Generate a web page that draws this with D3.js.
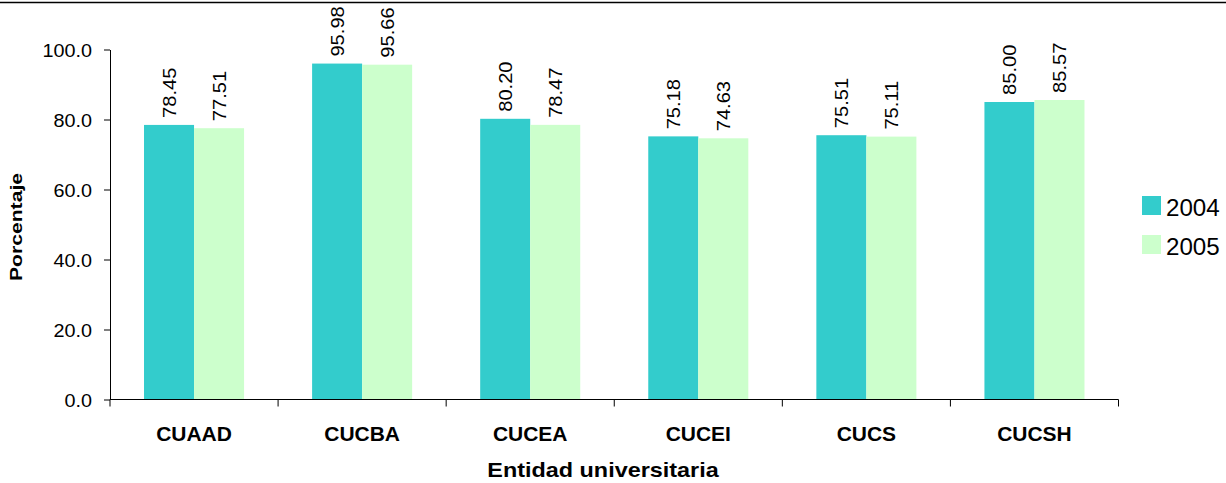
<!DOCTYPE html>
<html>
<head>
<meta charset="utf-8">
<script src="https://cdn.jsdelivr.net/npm/d3@7"></script>
<style>
  html, body { margin: 0; padding: 0; background: #fff; }
  svg { display: block; font-family: "Liberation Sans", Arial, sans-serif; }
</style>
</head>
<body>
<svg id="chart" width="1226" height="483"></svg>
<script>
const categories = ["CUAAD", "CUCBA", "CUCEA", "CUCEI", "CUCS", "CUCSH"];
const seriesNames = ["2004", "2005"];
const values2004 = [78.45, 95.98, 80.20, 75.18, 75.51, 85.00];
const values2005 = [77.51, 95.66, 78.47, 74.63, 75.11, 85.57];
const yTicks = [0, 20, 40, 60, 80, 100];
const colors = ["#33CCCC", "#CCFFCC"];
const xTitle = "Entidad universitaria";
const yTitle = "Porcentaje";

const seriesValues = [values2004, values2005];
const data = categories.map((c, i) => ({
  cat: c,
  vals: seriesNames.map((s, j) => ({ key: s, value: seriesValues[j][i], color: colors[j] }))
}));

const svg = d3.select("#chart");

// top rule
svg.append("line").attr("x1", 0).attr("x2", 1226).attr("y1", 2.5).attr("y2", 2.5)
  .attr("stroke", "#000").attr("stroke-width", 1.5);

const x0 = d3.scaleBand().domain(categories).range([110, 1118.5]).padding(0);
const x1 = d3.scaleBand().domain(seriesNames).range([0, x0.bandwidth()]).paddingInner(0).paddingOuter(0.68);
const y = d3.scaleLinear().domain([0, 100]).range([399.5, 49.5]);

// bars
const groups = svg.append("g").selectAll("g").data(data).join("g")
  .attr("transform", d => `translate(${x0(d.cat)},0)`);

groups.selectAll("rect").data(d => d.vals).join("rect")
  .attr("x", d => x1(d.key))
  .attr("y", d => y(d.value))
  .attr("width", x1.bandwidth())
  .attr("height", d => y(0) - y(d.value))
  .attr("fill", d => d.color);

// value labels
groups.selectAll("text.val").data(d => d.vals).join("text")
  .attr("class", "val")
  .attr("transform", d => `translate(${x1(d.key) + x1.bandwidth() / 2},${y(d.value) - 7}) rotate(-90) scale(1.06,1)`)
  .attr("dy", "0.35em")
  .attr("text-anchor", "start")
  .attr("font-size", 19)
  .attr("fill", "#000")
  .text(d => d.value.toFixed(2));

// y axis
const yAxis = svg.append("g").attr("transform", "translate(110,0)")
  .call(d3.axisLeft(y).tickValues(yTicks).tickSize(6).tickSizeOuter(0).tickFormat(d3.format(".1f")));
yAxis.select(".domain").attr("stroke", "#000");
yAxis.selectAll(".tick line").attr("stroke", "#000");
yAxis.selectAll(".tick text")
  .attr("font-size", 18).attr("font-family", null).attr("fill", "#000")
  .attr("x", null).attr("dy", null)
  .attr("transform", "translate(-18,6.5) scale(1.1,1)");

// x axis
const xAxisG = svg.append("g").attr("transform", "translate(0,399.5)");
xAxisG.append("line").attr("x1", 110).attr("x2", 1118.5).attr("y1", 0).attr("y2", 0).attr("stroke", "#000");
const boundaries = categories.map(c => x0(c)).concat([x0.range()[1]]);
xAxisG.selectAll("line.tk").data(boundaries).join("line").attr("class", "tk")
  .attr("x1", d => d).attr("x2", d => d).attr("y1", 0).attr("y2", 7).attr("stroke", "#000");
xAxisG.selectAll("text.cat").data(categories).join("text").attr("class", "cat")
  .attr("transform", d => `translate(${x0(d) + x0.bandwidth() / 2},41) scale(1.05,1)`)
  .attr("text-anchor", "middle")
  .attr("font-size", 20).attr("font-weight", "bold").attr("fill", "#000")
  .text(d => d);

// axis titles
svg.append("text")
  .attr("transform", "translate(603,476.5) scale(1.17,1)")
  .attr("text-anchor", "middle").attr("font-size", 20).attr("font-weight", "bold")
  .text(xTitle);
svg.append("text")
  .attr("transform", "translate(16,227) rotate(-90)")
  .attr("text-anchor", "middle").attr("dy", "0.35em").attr("font-size", 16).attr("font-weight", "bold")
  .attr("textLength", 108).attr("lengthAdjust", "spacingAndGlyphs")
  .text(yTitle);

// legend
const legend = svg.append("g").selectAll("g").data(seriesNames).join("g")
  .attr("transform", (d, i) => `translate(1142,${196 + i * 39})`);
legend.append("rect").attr("width", 19).attr("height", 19).attr("fill", (d, i) => colors[i]);
legend.append("text").attr("transform", "translate(24,19.5) scale(1.05,1)")
  .attr("font-size", 23).attr("fill", "#000").text(d => d);
</script>
</body>
</html>
